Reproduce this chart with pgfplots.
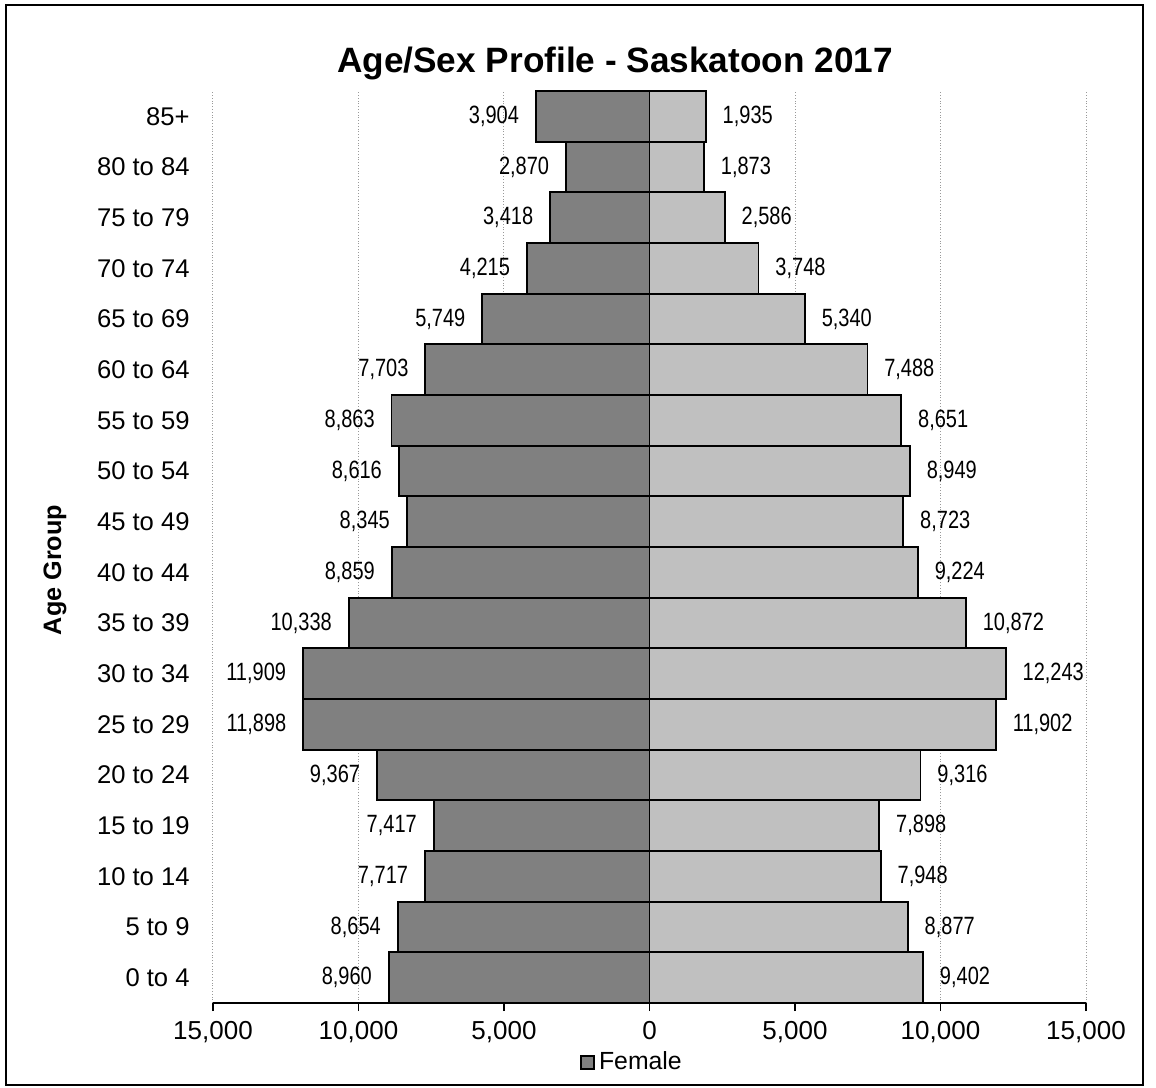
\documentclass[border=0pt]{standalone}
\usepackage{pgfplots}
\pgfplotsset{compat=1.18}
\usepackage{pgfplotstable}
\usepackage{fontspec}
\setmainfont{Liberation Sans}
\newfontfamily\narrowfont[FakeStretch=0.8]{Liberation Sans}
\definecolor{fem}{HTML}{808080}
\definecolor{mal}{HTML}{C0C0C0}
\pgfplotstableread{
idx f m
0 8960 9402
1 8654 8877
2 7717 7948
3 7417 7898
4 9367 9316
5 11898 11902
6 11909 12243
7 10338 10872
8 8859 9224
9 8345 8723
10 8616 8949
11 8863 8651
12 7703 7488
13 5749 5340
14 4215 3748
15 3418 2586
16 2870 1873
17 3904 1935
}\data
\begin{document}
\begin{tikzpicture}
\useasboundingbox (-106.5pt,-42pt) rectangle (471.5pt,501.5pt);
\draw[line width=1.2pt] (-103.5pt,-41pt) rectangle (465pt,499pt);
\begin{axis}[
  at={(0,0)}, anchor=south west,
  scale only axis, width=436.5pt, height=456pt,
  xmin=-15000, xmax=15000, ymin=-0.5, ymax=17.5,
  separate axis lines,
  axis x line*=bottom, axis y line*=left,
  x axis line style={-, black, line width=0.6pt},
  y axis line style={draw=none},
  scaled x ticks=false,
  xtick={-15000,-10000,-5000,0,5000,10000,15000},
  xticklabels={{15,000},{10,000},{5,000},{0},{5,000},{10,000},{15,000}},
  xtick pos=bottom, tick align=outside, major tick length=4pt,
  xtick style={black, line width=0.6pt},
  xmajorgrids, major x grid style={densely dotted, gray!80, line width=0.5pt},
  ytick={0,...,17},
  yticklabels={0 to 4,5 to 9,10 to 14,15 to 19,20 to 24,25 to 29,30 to 34,35 to 39,40 to 44,45 to 49,50 to 54,55 to 59,60 to 64,65 to 69,70 to 74,75 to 79,80 to 84,85+},
  ytick style={draw=none},
  xticklabel style={yshift=-1.5pt, font=\fontsize{13pt}{15pt}\selectfont},
  yticklabel style={anchor=east, inner sep=0pt, xshift=-7.5pt, font=\fontsize{12.8pt}{15pt}\selectfont},
  xbar, bar width=1, bar shift=0pt,
  legend style={at={(0.481,-0.0647)}, anchor=center, draw=none, fill=none, inner sep=0pt,
     font=\fontsize{12.4pt}{14pt}\selectfont},
  legend image code/.code={\draw[#1, line width=1pt, draw=black] (0pt,-3.25pt) rectangle (6.5pt,3.25pt);},
  legend cell align=left,
  /pgf/number format/assume math mode=true,
]
\addplot[fill=fem, draw=black, line width=0.9pt,
  nodes near coords={\pgfmathprintnumber[fixed, precision=0, 1000 sep={,}, assume math mode=true]{\pgfplotspointmeta}},
  point meta=\thisrow{f},
  every node near coord/.append style={font=\narrowfont\fontsize{12.5pt}{14pt}\selectfont, inner sep=0pt, anchor=east, xshift=-8pt, black}]
  table[x expr=-\thisrow{f}, y=idx] {\data};
\addlegendentry{Female}
\addplot[fill=mal, draw=black, line width=0.9pt, forget plot,
  nodes near coords={\pgfmathprintnumber[fixed, precision=0, 1000 sep={,}, assume math mode=true]{\pgfplotspointmeta}},
  point meta=\thisrow{m},
  every node near coord/.append style={font=\narrowfont\fontsize{12.5pt}{14pt}\selectfont, inner sep=0pt, anchor=west, xshift=8pt, black}]
  table[x=m, y=idx] {\data};
\end{axis}
\node[anchor=base, font=\bfseries\fontsize{17.6pt}{20pt}\selectfont] at (201pt,465pt) {Age/Sex Profile - Saskatoon 2017};
\node[rotate=90, font=\bfseries\fontsize{12.6pt}{14pt}\selectfont] at (-79pt,216.5pt) {Age Group};
\end{tikzpicture}
\end{document}
